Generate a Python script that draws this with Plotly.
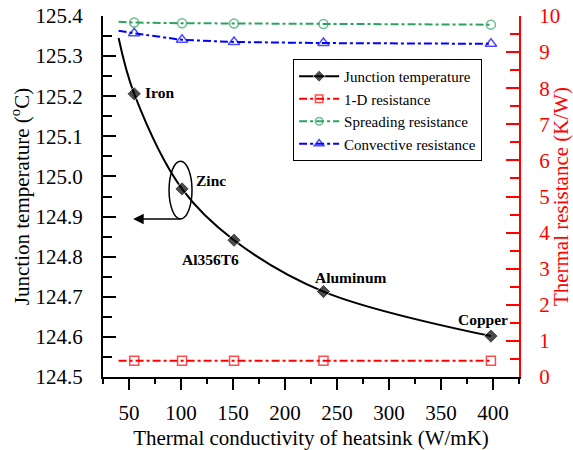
import plotly.graph_objects as go

# Heatsink thermal conductivity (W/mK); the first entry is the start of the fitted lines
k_line = [40, 55, 101, 151, 237, 398]
materials = ["", "Iron", "Zinc", "Al356T6", "Aluminum", "Copper"]

# Junction temperature (°C)
t_junction = [125.345, 125.206, 124.969, 124.841, 124.713, 124.602]

# Thermal resistances (K/W)
r_1d = [0.45, 0.45, 0.45, 0.45, 0.45, 0.45]
r_spreading = [9.84, 9.82, 9.80, 9.79, 9.78, 9.76]
r_convective = [9.59, 9.52, 9.34, 9.28, 9.25, 9.23]

# Material label positions (k, °C)
label_k = [79, 129, 128, 263, 390]
label_t = [125.209, 124.991, 124.794, 124.748, 124.644]

FONT = "Liberation Serif"
RED = "#ff0000"
GREEN = "#2ca25f"
BLUE = "#0000ff"


def marker_sizes(size):
    # no marker on the leading fit point
    return [0] + [size] * (len(k_line) - 1)


fig = go.Figure()

fig.add_trace(go.Scatter(
    x=k_line, y=t_junction, name="Junction temperature", mode="lines+markers",
    line=dict(color="black", width=2, shape="spline", smoothing=1.0),
    marker=dict(symbol="diamond", size=marker_sizes(11), color="black"),
))
fig.add_trace(go.Scatter(
    x=k_line, y=r_1d, name="1-D resistance", mode="lines+markers", yaxis="y2",
    line=dict(color=RED, width=2, dash="8px,3px,3px,3px"),
    marker=dict(symbol="square-open", size=marker_sizes(9), color=RED,
                line=dict(width=1.5, color=RED)),
))
fig.add_trace(go.Scatter(
    x=k_line, y=r_spreading, name="Spreading resistance", mode="lines+markers", yaxis="y2",
    line=dict(color=GREEN, width=2, dash="8px,3px,3px,3px"),
    marker=dict(symbol="circle-open", size=marker_sizes(9), color=GREEN,
                line=dict(width=1.5, color=GREEN)),
))
fig.add_trace(go.Scatter(
    x=k_line, y=r_convective, name="Convective resistance", mode="lines+markers", yaxis="y2",
    line=dict(color=BLUE, width=2, dash="8px,3px,3px,3px"),
    marker=dict(symbol="triangle-up-open", size=marker_sizes(10), color=BLUE,
                line=dict(width=1.5, color=BLUE)),
))

annotations = []
for name, xk, yt in zip(materials[1:], label_k, label_t):
    annotations.append(dict(
        x=xk, y=yt, xref="x", yref="y", text=f"<b>{name}</b>", showarrow=False,
        font=dict(family=FONT, size=15.5, color="black"),
    ))

# arrow pointing from the encircled curve towards the left-hand axis
annotations.append(dict(
    x=54, y=124.894, xref="x", yref="y", ax=101, ay=124.894, axref="x", ayref="y",
    text=" ", showarrow=True, arrowhead=2, arrowsize=1.4, arrowwidth=1.5,
    arrowcolor="black", font=dict(size=1),
))

fig.update_layout(
    width=573, height=450,
    margin=dict(l=103, r=54, t=16, b=73),
    paper_bgcolor="white", plot_bgcolor="white",
    font=dict(family=FONT, color="black"),
    showlegend=True,
    legend=dict(
        x=0.457, y=0.881, xanchor="left", yanchor="top",
        bgcolor="white", bordercolor="black", borderwidth=1,
        font=dict(family=FONT, size=15, color="black"),
        itemwidth=40, tracegroupgap=0,
    ),
    annotations=annotations,
    shapes=[dict(
        type="circle", xref="x", yref="y",
        x0=88.5, x1=110.6, y0=124.894, y1=125.038,
        line=dict(color="black", width=1.5),
    )],
    xaxis=dict(
        range=[25, 425], tick0=0, dtick=50, automargin=False,
        showline=True, linecolor="black", linewidth=2,
        ticks="outside", ticklen=11, tickwidth=2, tickcolor="black",
        minor=dict(ticks="outside", ticklen=5, tickwidth=2, dtick=25, tick0=0, tickcolor="black"),
        showgrid=False, zeroline=False, ticklabelstandoff=5,
        tickfont=dict(family=FONT, size=21, color="black"),
        title=dict(text="Thermal conductivity of heatsink (W/mK)",
                   font=dict(family=FONT, size=21, color="black"), standoff=6),
    ),
    yaxis=dict(
        range=[124.5, 125.4], tick0=124.5, dtick=0.1, tickformat=".1f", automargin=False,
        showline=True, linecolor="black", linewidth=2,
        ticks="inside", ticklen=13, tickwidth=2, tickcolor="black",
        minor=dict(ticks="inside", ticklen=9, tickwidth=2, dtick=0.05, tick0=124.5, tickcolor="black"),
        showgrid=False, zeroline=False, ticklabelstandoff=14,
        tickfont=dict(family=FONT, size=21, color="black"),
        title=dict(text="Junction temperature (<sup>o</sup>C)",
                   font=dict(family=FONT, size=21, color="black"), standoff=0),
    ),
    yaxis2=dict(
        range=[0, 10], tick0=0, dtick=1, overlaying="y", side="right", automargin=False,
        showline=True, linecolor=RED, linewidth=2,
        ticks="inside", ticklen=13, tickwidth=2, tickcolor=RED,
        minor=dict(ticks="inside", ticklen=9, tickwidth=2, dtick=0.5, tick0=0, tickcolor=RED),
        showgrid=False, zeroline=False, ticklabelstandoff=14,
        tickfont=dict(family=FONT, size=21, color=RED),
        title=dict(text="Thermal resistance (K/W)",
                   font=dict(family=FONT, size=21, color=RED), standoff=2),
    ),
)

fig.write_html("out.html")
